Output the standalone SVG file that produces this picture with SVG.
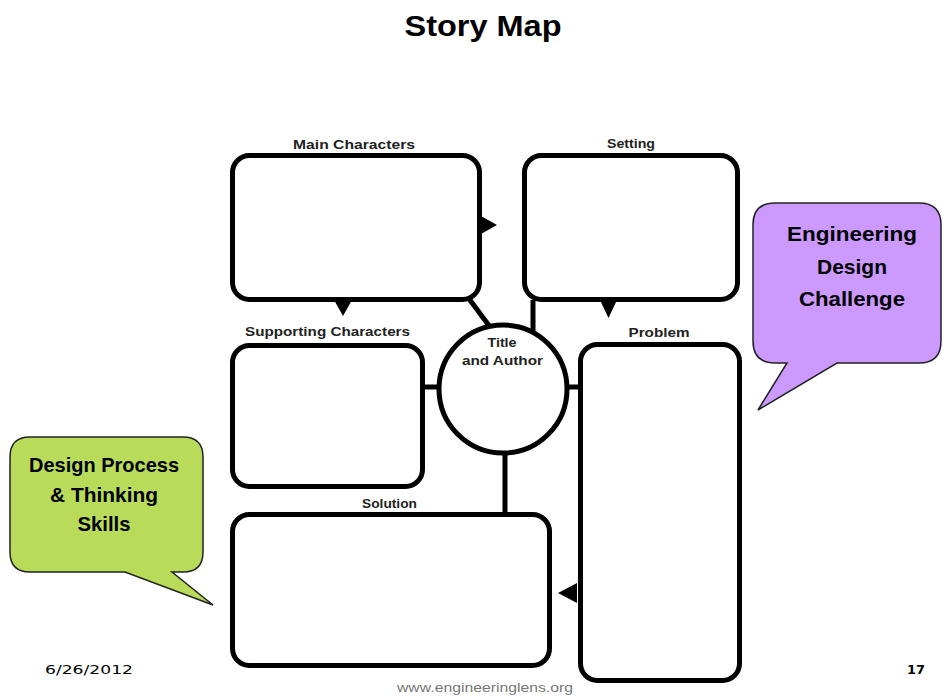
<svg xmlns="http://www.w3.org/2000/svg" width="943" height="698" viewBox="0 0 943 698">
<style>
.box{fill:#fff;stroke:#000;stroke-width:5}
.conn{stroke:#000;stroke-width:5;fill:none}
.tri{fill:#000}
.lbl{font-family:"Liberation Sans",Arial,sans-serif;font-size:13px;font-weight:bold;fill:#222;text-anchor:middle}
.bub{font-family:"Liberation Sans",Arial,sans-serif;font-size:21px;font-weight:bold;fill:#000;text-anchor:middle}
.foot{font-family:"DejaVu Sans",Verdana,sans-serif;font-size:13px;fill:#000}
</style>
<rect width="943" height="698" fill="#fff"/>
<text x="483" y="36" font-family="Liberation Sans, Arial, sans-serif" font-size="30" font-weight="bold" text-anchor="middle" textLength="157" lengthAdjust="spacingAndGlyphs">Story Map</text>

<g id="connectors">
<line class="conn" x1="467" y1="296" x2="490" y2="327"/>
<line class="conn" x1="533" y1="300" x2="533" y2="333"/>
<line class="conn" x1="423" y1="387" x2="440" y2="387"/>
<line class="conn" x1="566" y1="387" x2="581" y2="387"/>
<line class="conn" x1="505" y1="452" x2="505" y2="513"/>
<polygon class="tri" points="481,216 497,225 481,234"/>
<polygon class="tri" points="334,300 352,300 343,316"/>
<polygon class="tri" points="600,300 617,300 608.5,318"/>
<polygon class="tri" points="577,583 558,593 577,603"/>
</g>

<g id="main-characters">
<rect class="box" x="232.5" y="155.5" width="247" height="144" rx="17"/>
<text class="lbl" x="354" y="149" textLength="122" lengthAdjust="spacingAndGlyphs">Main Characters</text>
</g>
<g id="setting">
<rect class="box" x="524.5" y="155.5" width="213" height="144" rx="17"/>
<text class="lbl" x="631" y="148" textLength="48" lengthAdjust="spacingAndGlyphs">Setting</text>
</g>
<g id="supporting-characters">
<rect class="box" x="232.5" y="345.5" width="190" height="141" rx="17"/>
<text class="lbl" x="327.5" y="336" textLength="165" lengthAdjust="spacingAndGlyphs">Supporting Characters</text>
</g>
<g id="title-author">
<circle class="box" cx="503" cy="389" r="64"/>
<text class="lbl" x="502" y="347" font-size="12" textLength="29" lengthAdjust="spacingAndGlyphs">Title</text>
<text class="lbl" x="502.5" y="365" font-size="12" textLength="81" lengthAdjust="spacingAndGlyphs">and Author</text>
</g>
<g id="problem">
<rect class="box" x="580.5" y="344.5" width="159" height="336" rx="17"/>
<text class="lbl" x="659" y="337" textLength="61" lengthAdjust="spacingAndGlyphs">Problem</text>
</g>
<g id="solution">
<rect class="box" x="232.5" y="514.5" width="317" height="151" rx="17"/>
<text class="lbl" x="389.5" y="508" textLength="55" lengthAdjust="spacingAndGlyphs">Solution</text>
</g>

<g id="engineering-bubble">
<path d="M775,203 H919 Q941,203 941,225 V341 Q941,363 919,363 H837 L758,410 L787,363 H775 Q753,363 753,341 V225 Q753,203 775,203 Z" fill="#cc99ff" stroke="#222" stroke-width="1.5"/>
<text class="bub" x="852" y="241" textLength="130" lengthAdjust="spacingAndGlyphs">Engineering</text>
<text class="bub" x="852" y="274" textLength="70" lengthAdjust="spacingAndGlyphs">Design</text>
<text class="bub" x="852" y="306" textLength="106" lengthAdjust="spacingAndGlyphs">Challenge</text>
</g>

<g id="design-process-bubble">
<path d="M30,437 H183 Q203,437 203,457 V552 Q203,572 183,572 H172 L213,605 L125,572 H30 Q10,572 10,552 V457 Q10,437 30,437 Z" fill="#b8db5a" stroke="#222" stroke-width="1.5"/>
<text class="bub" x="104" y="472" font-size="20" textLength="150" lengthAdjust="spacingAndGlyphs">Design Process</text>
<text class="bub" x="104" y="502" font-size="20" textLength="108" lengthAdjust="spacingAndGlyphs">&amp; Thinking</text>
<text class="bub" x="104" y="531" font-size="20" textLength="53" lengthAdjust="spacingAndGlyphs">Skills</text>
</g>

<text class="foot" x="45" y="674" textLength="88" lengthAdjust="spacingAndGlyphs">6/26/2012</text>
<text class="foot" x="907" y="674" font-weight="bold" textLength="18" lengthAdjust="spacingAndGlyphs">17</text>
<text x="485" y="692" font-family="Liberation Sans, Arial, sans-serif" font-size="13" fill="#777" text-anchor="middle" textLength="176" lengthAdjust="spacingAndGlyphs">www.engineeringlens.org</text>
</svg>
